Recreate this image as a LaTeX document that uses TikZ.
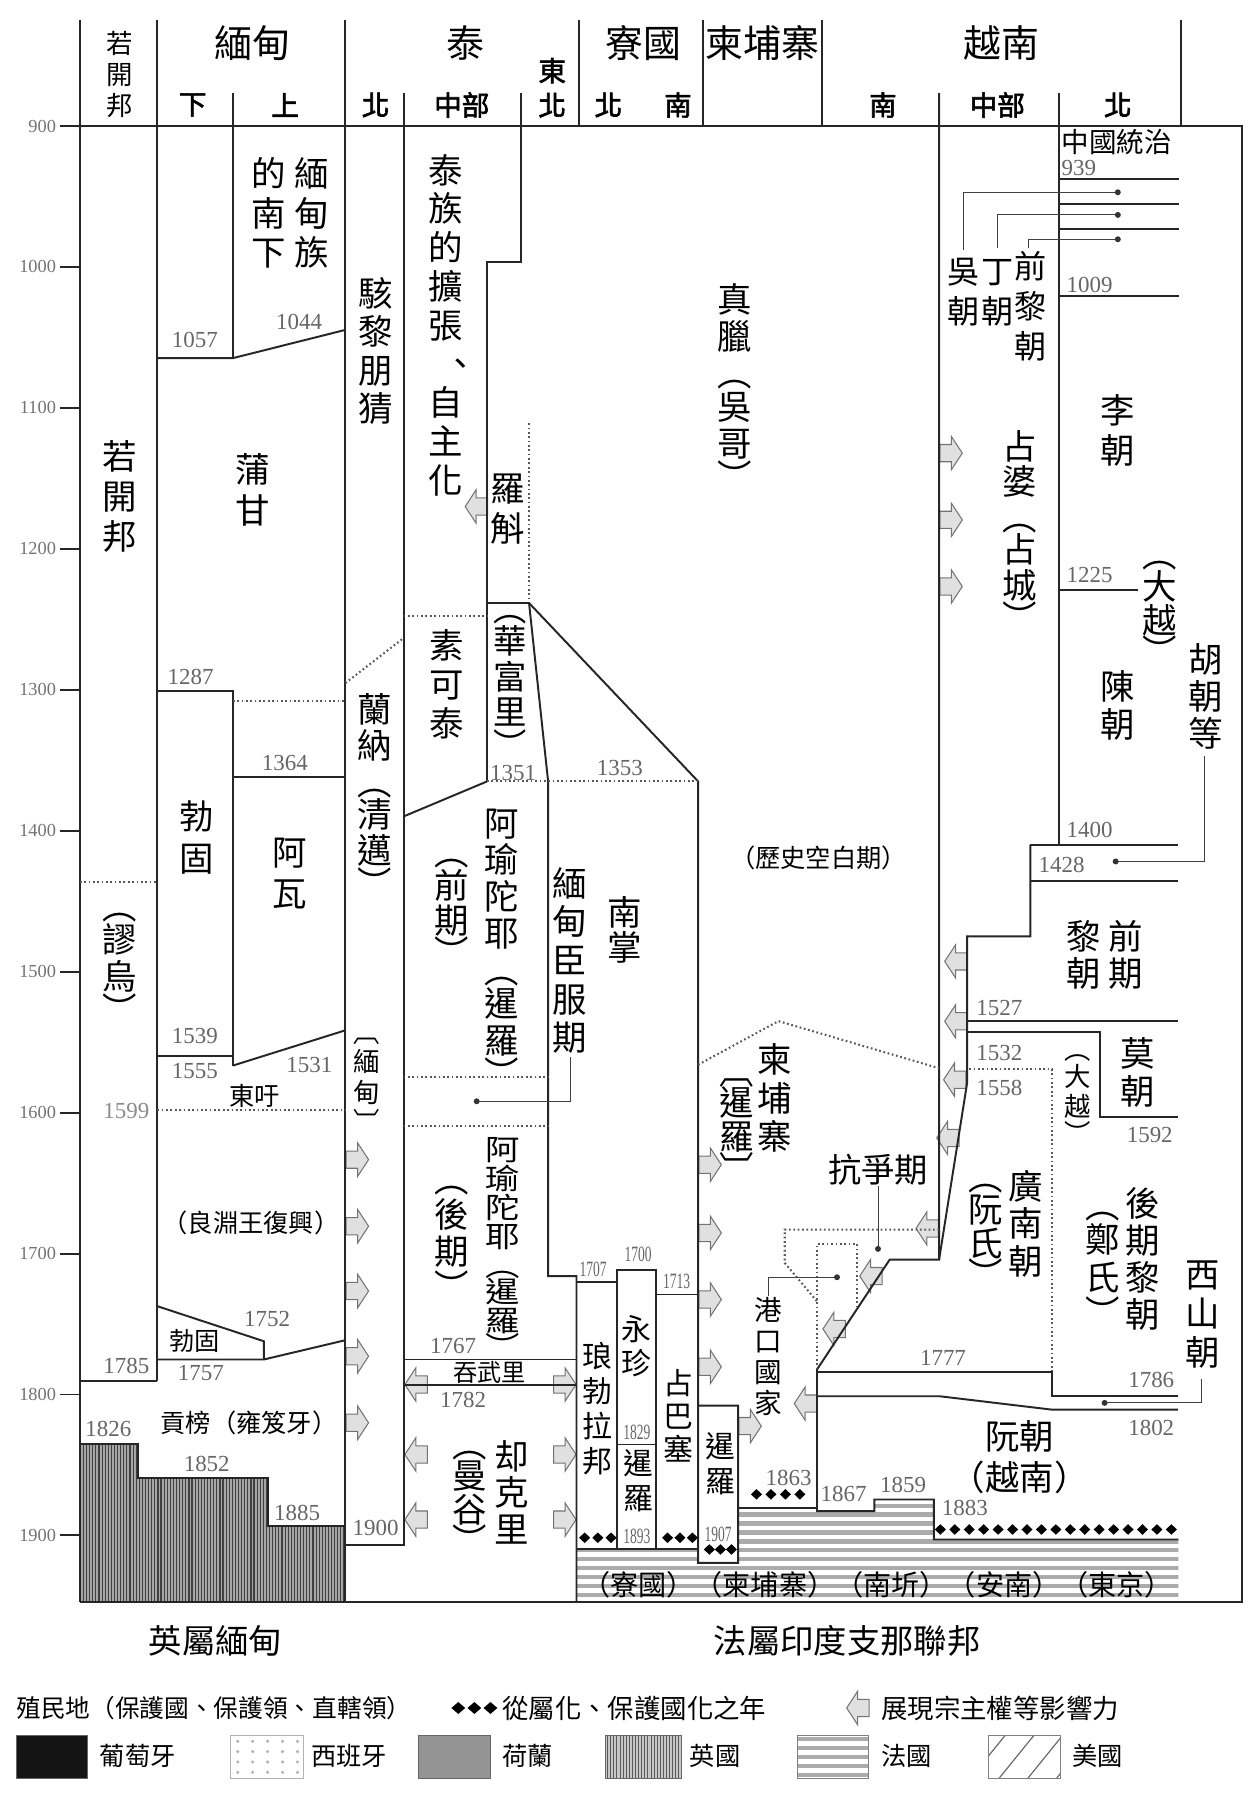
\documentclass[tikz,border=0pt]{standalone}
\usepackage{fontspec}
\usepackage{graphicx}
\setmainfont{Noto Sans CJK TC}
\newfontfamily\numfont{Liberation Serif}
\newfontfamily\boldcjk{Noto Sans CJK TC}[FakeBold=2.2]
\makeatletter
% vertical stack of characters: #1 = pitch (pt), #2 = characters;
% vertical brackets sit a little closer to the characters they enclose
\def\vs@oa{︵}\def\vs@ob{︹}\def\vs@ca{︶}\def\vs@cb{︺}
\newcommand\vstk[2]{\vbox{\baselineskip=#1pt\lineskiplimit=-1000pt\lineskip=0pt
  \@tfor\vs@c:=#2\do{%
    \ifx\vs@c\vs@ca\vskip-.1em\fi
    \ifx\vs@c\vs@cb\vskip-.1em\fi
    \hbox to 1.1em{\hss\vrule height .88em depth .12em width 0pt\vs@c\hss}%
    \ifx\vs@c\vs@oa\vskip-.1em\fi
    \ifx\vs@c\vs@ob\vskip-.1em\fi}}}
\makeatother
% enumeration comma centred in its cell for vertical text
\newcommand\vcomma{\hbox to 1em{\hskip .43em\rlap{、}\hss}}
% hollow influence arrows, (#1,#2) = middle of the flat end
\newcommand\infR[2]{\draw[infl] (#1,#2) ++(0,-7.5) -- ++(10,0) -- ++(0,-7) -- ++(9.5,14.5) -- ++(-9.5,14.5) -- ++(0,-7) -- ++(-10,0) -- cycle;}
\newcommand\infL[2]{\draw[infl] (#1,#2) ++(0,-7.5) -- ++(-10,0) -- ++(0,-7) -- ++(-9.5,14.5) -- ++(9.5,14.5) -- ++(0,-7) -- ++(10,0) -- cycle;}
\newcommand\dmd[2]{\fill[black] (#1,#2) ++(-4.8,0) -- ++(4.8,-4.6) -- ++(4.8,4.6) -- ++(-4.8,4.6) -- cycle;}
\newcommand\ldot[2]{\fill[black!80] (#1,#2) circle (2.6);}

\tikzset{
  frame/.style={line width=1.7pt, draw=black!85},
  dots/.style={line width=1.8pt, draw=black!65, dash pattern=on 1.5pt off 2.3pt},
  lead/.style={line width=0.8pt, draw=black!75},
  infl/.style={line width=0.9pt, draw=black!55, fill=black!12},
  yr/.style={font=\numfont\fontsize{20}{20}\selectfont, text=black!60, inner sep=0pt},
  yrs/.style={font=\numfont\fontsize{19}{19}\selectfont, text=black!60, inner sep=0pt},
  axl/.style={font=\numfont\fontsize{16}{16}\selectfont, text=black!55, inner sep=0pt, anchor=east},
  vl/.style={inner sep=0pt, font=\fontsize{30}{34}\selectfont},
  vm/.style={inner sep=0pt, font=\fontsize{26}{28}\selectfont},
  vs/.style={inner sep=0pt, font=\fontsize{23}{25}\selectfont},
  hl/.style={inner sep=0pt, font=\fontsize{22}{24}\selectfont},
  hd/.style={inner sep=0pt, font=\fontsize{33}{36}\selectfont},
  sh/.style={inner sep=0pt, font=\boldcjk\fontsize{24}{26}\selectfont},
}

\begin{document}
\begin{tikzpicture}[x=1pt,y=-1pt]
\useasboundingbox (0,0) rectangle (1088,1568);
\fill[white] (0,0) rectangle (1088,1568);

% ---------- British Burma (vertical hatching)
\begin{scope}
\clip (69.5,1256.8) -- (120,1256.8) -- (120,1286.6) -- (233.2,1286.6) -- (233.2,1328.7) -- (300.7,1328.7) -- (300.7,1395) -- (69.5,1395) -- cycle;
\fill[black!35] (60,1250) rectangle (310,1400);
\foreach \x in {70,72.7,...,302} \draw[black!75, line width=1pt] (\x,1250) -- (\x,1400);
\end{scope}

% ---------- French Indochina (horizontal stripes)
\begin{scope}
\clip (501.9,1348.4) -- (607.8,1348.4) -- (607.8,1360.6) -- (642.6,1360.6) -- (642.6,1312.7) -- (711.3,1312.7) -- (711.3,1315.6) -- (761.3,1315.6) -- (761.3,1305.5) -- (813,1305.5) -- (813,1340.3) -- (1026,1340.3) -- (1026,1395) -- (501.9,1395) -- cycle;
\foreach \y in {1303,1310.8,...,1400} \draw[black!33, line width=3.6pt] (495,\y) -- (1030,\y);
\end{scope}

% ---------- influence arrows
\foreach \y in {1009.6,1067.6,1124,1180.8,1238.7} {\infR{301.4}{\y}}
\infR{482}{1205.4} \infR{482}{1266.3} \infR{482}{1323}
\foreach \y in {1014,1073.4,1131.4,1190} {\infR{608.5}{\y}}
\infR{643.3}{1241.6}
\foreach \y in {394.5,452.6,510.6} {\infR{818.3}{\y}}
\infL{424.5}{441}
\infL{372}{1205.4} \infL{372}{1266.3} \infL{372}{1323}
\infL{842}{837} \infL{842}{889.2} \infL{841}{940} \infL{835}{990.7} \infL{817}{1069.5}
\infL{768}{1111} \infL{736}{1157}
\infL{711}{1222}

% ---------- header and frame
\draw[frame] (69.5,17) -- (69.5,1395);
\draw[frame] (137,17) -- (137,1202.5);
\draw[frame] (300.7,17) -- (300.7,1395);
\foreach \x in {504,612,716,1028} \draw[frame] (\x,17) -- (\x,109.7);
\draw[frame] (202.8,81) -- (202.8,311.8);
\draw[frame] (351.4,81) -- (351.4,1344.7) -- (300.7,1344.7);
\draw[frame] (453.5,81) -- (453.5,227.7) -- (424.1,227.7) -- (424.1,680.3);
\draw[frame] (817.6,81) -- (817.6,1096.6) -- (774.6,1096.6) -- (711.3,1192.3) -- (711.3,1315.6) -- (761.3,1315.6) -- (761.3,1305.5) -- (813,1305.5) -- (813,1340.3) -- (1026,1340.3);
\draw[frame] (921.8,81) -- (921.8,735.4);
\draw[frame] (52,109.7) -- (1081,109.7) -- (1081,1395) -- (69.5,1395);

% year axis
\foreach \i in {0,...,10} {
  \pgfmathsetmacro\yy{109.7+\i*122.71}
  \pgfmathtruncatemacro\lab{900+100*\i}
  \draw[frame] (52,\yy) -- (69.5,\yy);
  \node[axl] (ax\i) at (49,\yy) {\lab};
}

% header labels
\node[vs] (hRk) at (104,64.5) {\vstk{27}{若開邦}};
\node[hd] (hMm) at (219.6,37.7) {緬甸};
\node[hd] (hTh) at (405.6,37.7) {泰};
\node[hd] (hLa) at (560,37.7) {寮國};
\node[hd] (hKh) at (663.7,37.7) {柬埔寨};
\node[hd] (hVn) at (871.8,37.7) {越南};
\node[sh] (sMmL) at (167.8,91.4) {下};
\node[sh] (sMmU) at (248.2,91.4) {上};
\node[sh] (sThN) at (327,91.4) {北};
\node[sh] (sThC) at (402,91.4) {中部};
\node[sh] (sThE) at (480.8,76.5) {\vstk{30}{東北}};
\node[sh] (sLaN) at (529.7,91.4) {北};
\node[sh] (sLaS) at (590.3,91.4) {南};
\node[sh] (sVnS) at (768.7,91.4) {南};
\node[sh] (sVnC) at (868.3,91.4) {中部};
\node[sh] (sVnN) at (973.2,91.4) {北};

% ---------- Arakan and Burma
\draw[dots] (69.5,768) -- (137,768);
\draw[frame] (69.5,1202.5) -- (137,1202.5);
\draw[frame] (137,311.8) -- (202.8,311.8) -- (300.7,287.2);
\draw[frame] (137,602) -- (202.8,602) -- (202.8,927.7);
\draw[dots] (202.8,610.7) -- (300.7,610.7);
\draw[frame] (202.8,676.8) -- (300.7,676.8);
\draw[frame] (137,919.7) -- (202.8,919.7);
\draw[frame] (202.8,927.7) -- (300.7,897);
\draw[dots] (137,966) -- (300.7,966);
\draw[frame] (137,1137.2) -- (229.7,1167.7) -- (229.7,1183.6);
\draw[frame] (137,1183.6) -- (229.7,1183.6) -- (300.7,1166.8);
\draw[frame] (69.5,1256.8) -- (120,1256.8) -- (120,1286.6) -- (233.2,1286.6) -- (233.2,1328.7) -- (300.7,1328.7);

\node[vl] (rk) at (104,432.3) {\vstk{35}{若開邦}};
\node[vl] (mrauk) at (104,834) {\vstk{32}{︵謬烏︶}};
\node[vl] (bm1) at (271,185.6) {\vstk{34.5}{緬甸族}};
\node[vl] (bm2) at (234.3,185.6) {\vstk{34.5}{的南下}};
\node[vl] (pagan) at (220,426.5) {\vstk{35}{蒲甘}};
\node[vl] (pegu) at (171,729) {\vstk{36}{勃固}};
\node[vl] (ava) at (252,760) {\vstk{36}{阿瓦}};
\node[hl] (toungoo) at (222,954.5) {東吁};
\node[hl] (nyaung) at (218.6,1064.6) {（良淵王復興）};
\node[hl] (pegu2) at (169.6,1167.7) {勃固};
\node[hl] (konbaung) at (216.8,1238.7) {貢榜（雍笈牙）};

\node[yr] (y1057) at (169.6,296) {1057};
\node[yr] (y1044) at (260.5,280) {1044};
\node[yr] (y1287) at (166,589) {1287};
\node[yr] (y1364) at (248,664) {1364};
\node[yr] (y1539) at (169.6,902) {1539};
\node[yr] (y1555) at (169.6,932.7) {1555};
\node[yr] (y1531) at (269.3,927) {1531};
\node[yr, text=black!45] (y1599) at (110,967.5) {1599};
\node[yr] (y1752) at (232.5,1148) {1752};
\node[yr] (y1785) at (110,1188.9) {1785};
\node[yr] (y1757) at (174.8,1195.3) {1757};
\node[yr] (y1826) at (94.4,1244) {1826};
\node[yr] (y1852) at (180,1274.4) {1852};
\node[yr] (y1885) at (258.7,1317) {1885};
\node[yr] (y1900) at (327,1330) {1900};

% ---------- Thai columns
\draw[dots] (300.7,594.7) -- (351.4,555.5);
\draw[dots] (351.4,536.7) -- (424.1,536.7);
\draw[frame] (351.4,710.8) -- (424.1,680.3);
\draw[dots] (460.6,368.4) -- (460.6,525);
\draw[frame] (424.1,525) -- (460.6,525) -- (477.2,680.3) -- (477.2,1111) -- (501.9,1111) -- (501.9,1395);
\draw[frame] (460.6,525) -- (607.8,680.3) -- (607.8,1360.6) -- (642.6,1360.6) -- (642.6,1223.7) -- (607.8,1223.7);
\draw[dots] (424.1,680.3) -- (607.8,680.3);
\draw[dots] (351.4,937.6) -- (477.2,937.6);
\draw[dots] (351.4,980.6) -- (477.2,980.6);
\draw[frame] (351.4,1183.6) -- (501.9,1183.6);
\draw[frame] (351.4,1205.4) -- (501.9,1205.4);

\node[vl] (lanx) at (327,305.5) {\vstk{33.5}{駭黎朋猜}};
\node[vl] (lanna) at (326.5,693.5) {\vstk{31.5}{蘭納︵清邁︶}};
\node[vs] (lanna2) at (319,937.7) {\vstk{27.5}{︹緬甸︺}};
\node[vl] (taiexp) at (388,283) {\vstk{33.75}{泰族的擴張\vcomma 自主化}};
\node[vl] (sukho) at (388.8,595.6) {\vstk{34}{素可泰}};
\node[vl] (early) at (393,786) {\vstk{31}{︵前期︶}};
\node[vl] (ayu1) at (437,825.6) {\vstk{32}{阿瑜陀耶︵暹羅︶}};
\node[vl] (late) at (393,1073.4) {\vstk{33}{︵後期︶}};
\node[vl] (ayu2) at (438,1086.6) {\scalebox{1}[0.84]{\vstk{30}{阿瑜陀耶︵暹羅︶}}};
\node[vl] (lavo) at (442.3,442.4) {\vstk{35}{羅斛}};
\node[vl, font=\fontsize{29}{31}\selectfont] (lopburi) at (443.9,589) {\vstk{31}{︵華富里︶}};
\node[vl] (vassal) at (496,836.2) {\vstk{33.7}{緬甸臣服期}};
\node[vl] (lanxang) at (544,809.5) {\vstk{30}{南掌}};
\node[hl, font=\fontsize{21}{23}\selectfont] (thonburi) at (426.5,1195.2) {吞武里};
\node[vl] (chakri) at (445.8,1299.7) {\vstk{32}{却克里}};
\node[vl] (bangkok) at (409,1299.5) {\vstk{30}{︵曼谷︶}};

\node[yr] (y1351) at (446.8,673) {1351};
\node[yr] (y1353) at (539.6,668.7) {1353};
\node[yr] (y1767) at (394.5,1172) {1767};
\node[yr] (y1782) at (403.2,1218.5) {1782};

\coordinate (vsEnd) at (496.5,920);
\coordinate (vsDot) at (415,958.8);
\draw[lead] (vsEnd) |- (vsDot);
\ldot{415}{958.8}

% ---------- Laos and Cambodia
\draw[frame] (501.9,1116.3) -- (537.3,1116.3);
\draw[frame] (537.3,1348.4) -- (537.3,1105.3) -- (571.5,1105.3) -- (571.5,1348.4);
\draw[frame] (571.5,1127) -- (607.8,1127);
\draw[frame] (537.3,1257.6) -- (571.5,1257.6);
\draw[frame] (501.9,1348.4) -- (607.8,1348.4);
\draw[frame] (642.6,1312.7) -- (711.3,1312.7);
\draw[dots] (607.8,927) -- (677.7,889) -- (817.6,930);

\node[vl] (angkor) at (639.3,338) {\vstk{32}{真臘︵吳哥︶}};
\node[hl] (blank) at (712.7,747) {（歷史空白期）};
\node[vl] (camb) at (674.2,955.9) {\vstk{33.4}{柬埔寨}};
\node[vl] (camb2) at (641,974.8) {\vstk{30}{︹暹羅︺}};
\node[vm] (luang) at (520,1226.4) {\vstk{30.4}{琅勃拉邦}};
\node[vm] (vien) at (554.4,1172) {\vstk{29}{永珍}};
\node[vm] (champa2) at (590.8,1233) {\vstk{29}{占巴塞}};
\node[vm] (siam1) at (556,1288.8) {\vstk{30.4}{暹羅}};
\node[vm] (siam2) at (627.2,1274.3) {\vstk{30.5}{暹羅}};

\node[yrs] (y1707) at (516.4,1105.3) {\scalebox{0.62}[1]{1707}};
\node[yrs] (y1700) at (555.5,1092.2) {\scalebox{0.62}[1]{1700}};
\node[yrs] (y1713) at (589,1115.5) {\scalebox{0.62}[1]{1713}};
\node[yrs] (y1829) at (554.4,1247.4) {\scalebox{0.62}[1]{1829}};
\node[yrs] (y1893) at (554.4,1337.4) {\scalebox{0.62}[1]{1893}};
\node[yrs] (y1907) at (625.3,1336) {\scalebox{0.62}[1]{1907}};
\node[yr] (y1863) at (686.6,1286.6) {1863};
\node[yr] (y1867) at (734.5,1301) {1867};
\node[yr] (y1859) at (786.2,1292.5) {1859};
\node[yr] (y1883) at (840,1312.7) {1883};

% ---------- Vietnam
\foreach \y in {155.8,177.5,199,257.3} \draw[frame] (921.8,\y) -- (1026.7,\y);
\draw[frame] (921.8,513.5) -- (990.7,513.5);
\draw[frame] (897,735.4) -- (1025.7,735.4);
\draw[frame] (897,767.3) -- (1025.7,767.3);
\draw[frame] (897,735.4) -- (897,815.2) -- (842,815.2) -- (842,942.8) -- (817.6,1096.6);
\draw[frame] (842,889.2) -- (1025.7,889.2);
\draw[frame] (842,898.8) -- (957.4,898.8) -- (957.4,972.4) -- (1025.7,972.4);
\draw[dots] (843.8,930.7) -- (916,930.7) -- (916,1194.7);
\draw[frame] (711.3,1194.7) -- (916.2,1194.7) -- (916.2,1215.6) -- (1025.5,1215.6);
\draw[frame] (711.3,1215.6) -- (818.1,1215.6) -- (915.3,1227.2) -- (1025.5,1227.2);
\draw[dots] (817.6,1070.5) -- (683.2,1070.5) -- (683.2,1099.5) -- (711.3,1133);
\draw[dots] (711.3,1192.3) -- (711.3,1083) -- (746,1083) -- (746,1139.8);

\node[hl, anchor=west, font=\fontsize{24}{26}\selectfont] (china) at (924,123.3) {中國統治};
\node[vl, font=\fontsize{28}{30}\selectfont] (ngo) at (838.5,253.9) {\vstk{35}{吳朝}};
\node[vl, font=\fontsize{28}{30}\selectfont] (dinh) at (868.3,253.9) {\vstk{35}{丁朝}};
\node[vl, font=\fontsize{28}{30}\selectfont] (elle) at (897,266.9) {\vstk{34.8}{前黎朝}};
\coordinate (ngoT) at (838.5,217.6);
\coordinate (dinhT) at (868.3,216.2);
\coordinate (elleT) at (895.2,216);
\draw[lead] (ngoT) |- (973.2,167.4);
\draw[lead] (dinhT) |- (973.2,187.1);
\draw[lead] (elleT) |- (973.2,208.3);
\ldot{973.2}{167.4} \ldot{973.2}{187.1} \ldot{973.2}{208.3}
\node[vl] (ly) at (973.5,374.8) {\vstk{35}{李朝}};
\node[vl] (daiviet1) at (1010,525.1) {\vstk{30}{︵大越︶}};
\node[vl] (tran) at (973.5,614.3) {\vstk{33.4}{陳朝}};
\node[vl] (ho) at (1050,606.3) {\vstk{32}{胡朝等}};
\coordinate (hoT) at (1048.4,658.6);
\draw[lead] (hoT) |- (971.3,750);
\ldot{971.3}{750}
\node[vl] (champa) at (887.5,463) {\vstk{31}{占婆︵占城︶}};
\node[vl] (le1a) at (943.4,831.1) {\vstk{32}{黎朝}};
\node[vl] (le1b) at (980,831.1) {\vstk{32}{前期}};
\node[vl] (mac) at (990.7,933.4) {\vstk{33.4}{莫朝}};
\node[vs] (daiviet2) at (938.2,950.1) {\vstk{26}{︵大越︶}};
\node[vl] (nguyenl) at (892.8,1065.4) {\vstk{32.6}{廣南朝}};
\node[vl] (nguyens) at (857.8,1067.5) {\vstk{30}{︵阮氏︶}};
\node[vl] (le2) at (995,1095.9) {\vstk{32.4}{後期黎朝}};
\node[vl] (trinh) at (960.3,1095.9) {\vstk{33}{︵鄭氏︶}};
\node[vl] (tayson) at (1047.3,1143.8) {\vstk{34}{西山朝}};
\coordinate (taysonT) at (1045.9,1201);
\draw[lead] (taysonT) |- (961.7,1221.4);
\ldot{961.7}{1221.4}
\node[hl, font=\fontsize{29}{31}\selectfont] (struggle) at (764.4,1018.3) {抗爭期};
\coordinate (struggleB) at (764.4,1032.8);
\draw[lead] (struggleB) -- (764.4,1087.3);
\ldot{764.4}{1087.3}
\node[vs, font=\fontsize{24}{26}\selectfont] (port) at (668.7,1181.4) {\vstk{27}{港口國家}};
\coordinate (portT) at (668.7,1128);
\draw[lead] (portT) |- (728.7,1112);
\ldot{728.7}{1112}
\node[hl, font=\fontsize{30}{32}\selectfont] (nguyen1) at (887.7,1250.4) {阮朝};
\node[hl, font=\fontsize{30}{32}\selectfont] (nguyen2) at (887.7,1286.6) {（越南）};

\node[yr, anchor=west] (y939) at (924,146.5) {939};
\node[yr] (y1009) at (948.6,248) {1009};
\node[yr] (y1225) at (948.6,500.4) {1225};
\node[yr] (y1400) at (948.6,722.4) {1400};
\node[yr] (y1428) at (924.3,752.8) {1428};
\node[yr] (y1527) at (870,877.6) {1527};
\node[yr] (y1532) at (870,916.7) {1532};
\node[yr] (y1558) at (870,947.2) {1558};
\node[yr] (y1592) at (1001,987.8) {1592};
\node[yr] (y1777) at (821,1182.2) {1777};
\node[yr] (y1786) at (1002.3,1201) {1786};
\node[yr] (y1802) at (1002.3,1243.1) {1802};

% ---------- dates of subordination
\foreach \x in {509,520.5,532} {\dmd{\x}{1338.8}}
\foreach \x in {581.2,592,602.8} {\dmd{\x}{1338.8}}
\foreach \x in {617.6,627.2,636.8} {\dmd{\x}{1349}}
\foreach \x in {658.6,671.2,683.8,696.4} {\dmd{\x}{1301}}
\foreach \i in {0,...,16} {\pgfmathsetmacro\xx{818.7+\i*12.57}\dmd{\xx}{1331.6}}

\node[inner sep=0pt, font=\fontsize{24.5}{26}\selectfont] (colonies) at (764,1379.5) {（寮國）（柬埔寨）（南圻）（安南）（東京）};

% ---------- bottom captions
\node[hl, font=\fontsize{29}{31}\selectfont] (brb) at (187.5,1429) {英屬緬甸};
\node[hl, font=\fontsize{29}{31}\selectfont] (fri) at (737.5,1429) {法屬印度支那聯邦};

% ---------- legend
\node[hl, anchor=west, font=\fontsize{21.5}{23}\selectfont] (lg1) at (14,1487) {殖民地（保護國、保護領、直轄領）};
\foreach \x in {399,413,427} {\fill[black] (\x,1487) ++(-6,0) -- ++(6,-5.2) -- ++(6,5.2) -- ++(-6,5.2) -- cycle;}
\node[hl, anchor=west, font=\fontsize{23}{25}\selectfont] (lg2) at (437,1487) {從屬化、保護國化之年};
\infL{756.6}{1487}
\node[hl, anchor=west, font=\fontsize{23}{25}\selectfont] (lg3) at (767,1487) {展現宗主權等影響力};

% swatches
\fill[black!92] (14,1511) rectangle (76.3,1548);
\draw[black!60, line width=0.8pt] (14,1511) rectangle (76.3,1548);
\node[hl, anchor=west] (lgPt) at (86.7,1529) {葡萄牙};

\draw[black!30, line width=0.8pt] (201,1511) rectangle (263.8,1548);
\foreach \x in {207,220,233,246,259} \foreach \y in {1516,1525,1534,1543} \fill[black!30] (\x,\y) circle (1.5);
\node[hl, anchor=west] (lgEs) at (270.7,1529) {西班牙};

\fill[black!42] (364.4,1511) rectangle (426.8,1548);
\draw[black!60, line width=0.8pt] (364.4,1511) rectangle (426.8,1548);
\node[hl, anchor=west] (lgNl) at (437,1529) {荷蘭};

\begin{scope}
\clip (527.5,1511) rectangle (593.4,1548);
\fill[black!22] (527.5,1511) rectangle (593.4,1548);
\foreach \x in {529,531.7,...,593} \draw[black!65, line width=0.8pt] (\x,1510) -- (\x,1549);
\end{scope}
\draw[black!60, line width=0.8pt] (527.5,1511) rectangle (593.4,1548);
\node[hl, anchor=west] (lgGb) at (600.3,1529) {英國};

\begin{scope}
\clip (694,1511) rectangle (756.5,1548);
\foreach \y in {1514,1521.8,...,1548} \draw[black!33, line width=3.6pt] (690,\y) -- (760,\y);
\end{scope}
\draw[black!50, line width=0.8pt] (694,1511) rectangle (756.5,1548);
\node[hl, anchor=west] (lgFr) at (767,1529) {法國};

\begin{scope}
\clip (860.6,1511) rectangle (923,1548);
\foreach \x in {845,870,895,920} \draw[black!60, line width=1pt] (\x,1548) -- (\x+30,1511);
\end{scope}
\draw[black!50, line width=0.8pt] (860.6,1511) rectangle (923,1548);
\node[hl, anchor=west] (lgUs) at (933.5,1529) {美國};

\end{tikzpicture}
\end{document}
